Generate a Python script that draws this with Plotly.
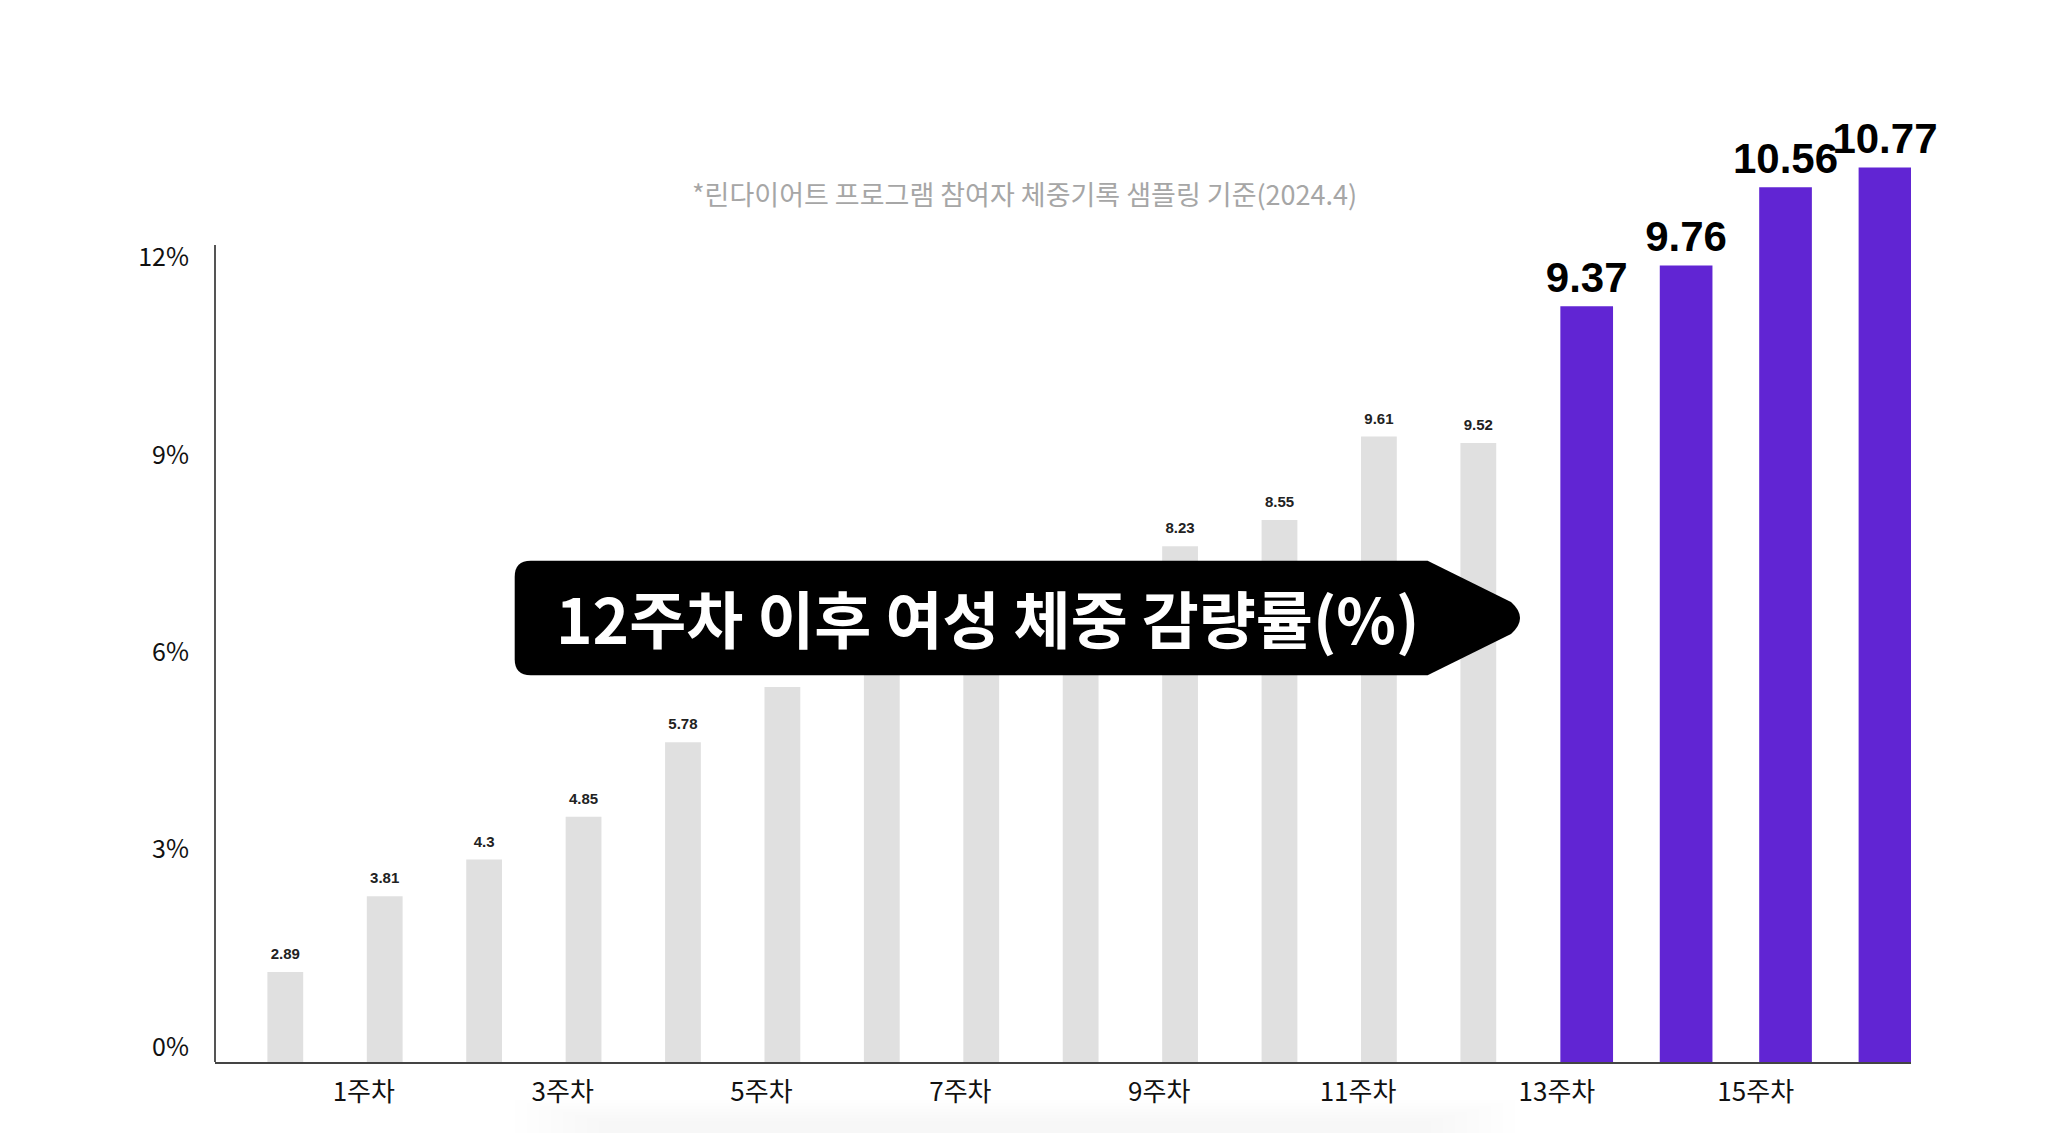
import plotly.graph_objects as go

# ---------------- data ----------------
grey_heights = [1.37, 2.52, 3.08, 3.73, 4.86, 5.70, 6.30, 6.85, 7.35, 7.84, 8.24, 9.51, 9.41]
grey_labels = ["2.89", "3.81", "4.3", "4.85", "5.78", "", "", "", "", "8.23", "8.55", "9.61", "9.52"]
purple_heights = [11.49, 12.11, 13.30, 13.60]
purple_labels = ["9.37", "9.76", "10.56", "10.77"]
x_tick_labels = ["1주차", "3주차", "5주차", "7주차", "9주차", "11주차", "13주차", "15주차"]
y_tick_vals = [0, 3, 6, 9, 12]
y_tick_text = ["0%", "3%", "6%", "9%", "12%"]
subtitle = "*린다이어트 프로그램 참여자 체중기록 샘플링 기준(2024.4)"
callout = "12주차 이후 여성 체중 감량률(%)"

# ---------------- layout geometry ----------------
OFF = 8  # page body margin in the browser
W, H = 2048 - OFF, 1133 - OFF
ML, MR, MT, MB = 215 - OFF, 137, 70 - OFF, 71
PW, PH = W - ML - MR, H - MT - MB
PX_PER_X = 99.42
PX_PER_Y = 65.78
X0 = -0.707
XRANGE = [X0, X0 + PW / PX_PER_X]
YRANGE = [0, PH / PX_PER_Y]

grey_x = list(range(len(grey_heights)))
purple_x = list(range(len(grey_heights), len(grey_heights) + len(purple_heights)))
PURPLE_SHIFT = 0.09
GREY_W, PURPLE_W = 0.36, 0.53
tick_x = [2 * j + 0.79 for j in range(len(x_tick_labels))]

GREY = "#e0e0e0"
PURPLE = "#6125d3"
NUM_FONT = "Liberation Sans, Arial, sans-serif"
TICK_FONT = "Noto Sans CJK KR, sans-serif"
KR_FONT = "Noto Sans CJK KR, sans-serif"


def px(xp):
    """screen pixel x (in the 2048-wide page) -> paper fraction"""
    return (xp - OFF - ML) / PW


def py(yp):
    """screen pixel y (in the 1133-high page) -> paper fraction"""
    return (H - MB - (yp - OFF)) / PH


fig = go.Figure()

fig.add_trace(go.Bar(
    x=grey_x, y=grey_heights, width=GREY_W, marker=dict(color=GREY, line=dict(width=0)),
    hoverinfo="skip", showlegend=False,
))
fig.add_trace(go.Bar(
    x=purple_x, y=purple_heights, width=PURPLE_W, offset=-PURPLE_W / 2 + PURPLE_SHIFT,
    marker=dict(color=PURPLE, line=dict(width=0)), hoverinfo="skip", showlegend=False,
))

# value labels
fig.add_trace(go.Scatter(
    x=grey_x, y=grey_heights, text=grey_labels, mode="markers+text", textposition="top center",
    marker=dict(size=13, color="rgba(0,0,0,0)"),
    textfont=dict(family=NUM_FONT, size=15, color="#222222", weight="bold"),
    hoverinfo="skip", showlegend=False, cliponaxis=False,
))
fig.add_trace(go.Scatter(
    x=[v + PURPLE_SHIFT for v in purple_x], y=purple_heights, text=purple_labels,
    mode="markers+text", textposition="top center",
    marker=dict(size=4.5, color="rgba(0,0,0,0)"),
    textfont=dict(family=NUM_FONT, size=42, color="#000000", weight="bold"),
    hoverinfo="skip", showlegend=False, cliponaxis=False,
))

# y-axis line (short, like the original)
fig.add_shape(type="line", xref="paper", yref="y", x0=0, x1=0, y0=0, y1=12.42,
              line=dict(color="#555555", width=2), layer="above")

# callout arrow box
L, T, B, R, TIPX, CY = 514.7, 560.7, 675.2, 1427.6, 1525.0, 618.0
rad = 16
path = (
    f"M {px(L + rad)},{py(T)} "
    f"L {px(R)},{py(T)} "
    f"L {px(1511)},{py(602)} "
    f"Q {px(TIPX + 4)},{py(CY)} {px(1511)},{py(634)} "
    f"L {px(R)},{py(B)} "
    f"L {px(L + rad)},{py(B)} "
    f"Q {px(L)},{py(B)} {px(L)},{py(B - rad)} "
    f"L {px(L)},{py(T + rad)} "
    f"Q {px(L)},{py(T)} {px(L + rad)},{py(T)} Z"
)
fig.add_shape(type="path", xref="paper", yref="paper", path=path,
              fillcolor="#000000", line=dict(width=0), layer="above")

# very faint soft shadow at the bottom edge (layered for a soft edge)
for i in range(8):
    fig.add_shape(type="rect", xref="paper", yref="paper",
                  x0=px(515 + 12 * i), x1=px(1515 - 12 * i), y0=py(1145), y1=py(1100 + 3 * i),
                  fillcolor="rgba(0,0,0,0.004)", line=dict(width=0), layer="below")

fig.add_annotation(
    xref="paper", yref="paper", x=px(987), y=py(617), text=callout, showarrow=False,
    xanchor="center", yanchor="middle",
    font=dict(family=KR_FONT, size=62, color="#ffffff", weight="bold"),
)
fig.add_annotation(
    xref="paper", yref="paper", x=px(1024.5), y=py(193), text=subtitle, showarrow=False,
    xanchor="center", yanchor="middle",
    font=dict(family=KR_FONT, size=27, color="#a6a6a6"),
)

fig.update_layout(
    width=W, height=H,
    margin=dict(l=ML, r=MR, t=MT, b=MB, pad=0),
    paper_bgcolor="#ffffff", plot_bgcolor="#ffffff",
    barmode="overlay", showlegend=False,
    xaxis=dict(
        range=XRANGE, showgrid=False, zeroline=False, showline=True,
        linecolor="#444444", linewidth=2, ticks="",
        tickmode="array", tickvals=tick_x, ticktext=x_tick_labels,
        tickfont=dict(family=TICK_FONT, size=26, color="#111111"),
        ticklabelstandoff=6, fixedrange=True,
    ),
    yaxis=dict(
        range=YRANGE, showgrid=False, zeroline=False, showline=False, ticks="",
        tickmode="array", tickvals=y_tick_vals, ticktext=y_tick_text,
        tickfont=dict(family=TICK_FONT, size=25, color="#111111"),
        ticklabelshift=-15, ticklabelstandoff=25, fixedrange=True,
    ),
)

fig.write_html("out.html")
